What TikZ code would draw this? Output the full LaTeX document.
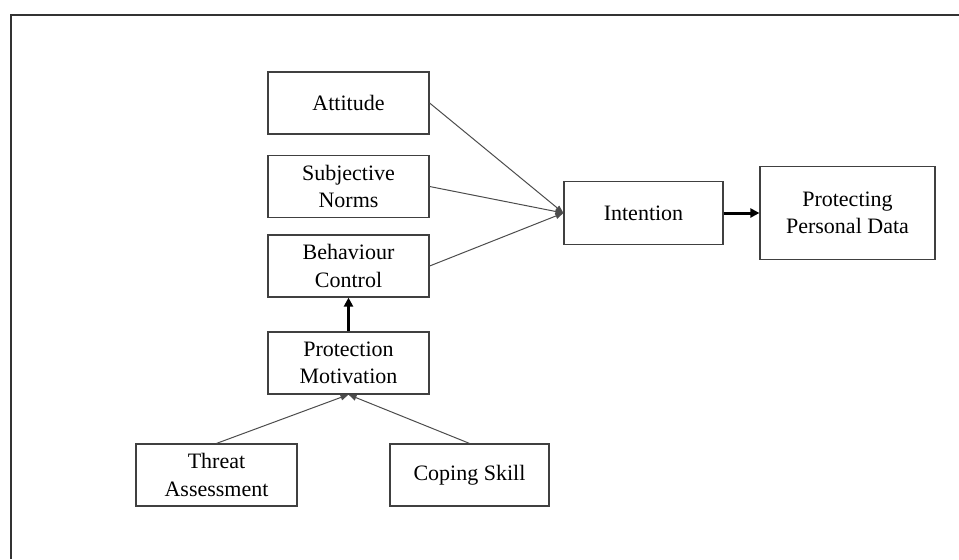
\documentclass[tikz,border=0pt]{standalone}
\usepackage{fontspec}
\setmainfont{Liberation Serif}
\usetikzlibrary{arrows.meta}

\begin{document}
\begin{tikzpicture}[x=0.5pt,y=-0.5pt,font=\fontsize{11pt}{13.8pt}\selectfont,
  box/.style={draw=black!75,line width=0.6pt,align=center,inner sep=1pt,
    minimum width=80.5pt,minimum height=31pt},
  thin/.style={draw=black!70,line width=0.5pt,-{Triangle[length=4pt,width=3pt]}},
  thick/.style={draw=black,line width=1.5pt,-{Triangle[length=4.5pt,width=4.5pt]}}]
\useasboundingbox (0,0) rectangle (959,559);
% outer frame
\draw[black!80,line width=1pt] (11,559) -- (11,15) -- (959,15);
% boxes
\node[box] (att) at (348.5,103) {Attitude};
\node[box] (sn) at (348.5,186.5) {Subjective\\Norms};
\node[box] (bc) at (348.5,266) {Behaviour\\Control};
\node[box] (pm) at (348.5,363) {Protection\\Motivation};
\node[box] (ta) at (216.5,475) {Threat\\Assessment};
\node[box,minimum width=79.5pt] (cs) at (469.5,475) {Coping Skill};
\node[box,minimum width=79.5pt,minimum height=31.5pt] (int) at (643.5,213) {Intention};
\node[box,minimum width=87.5pt,minimum height=46.5pt] (ppd) at (847.5,213) {Protecting\\Personal Data};
% connectors
\draw[thin] (att.east) -- (int.west);
\draw[thin] (sn.east) -- (int.west);
\draw[thin] (bc.east) -- (int.west);
\draw[thick] (int.east) -- (ppd.west);
\draw[thick] (pm.north) -- (bc.south);
\draw[thin] (ta.north) -- (pm.south);
\draw[thin] (cs.north) -- (pm.south);
\end{tikzpicture}
\end{document}
